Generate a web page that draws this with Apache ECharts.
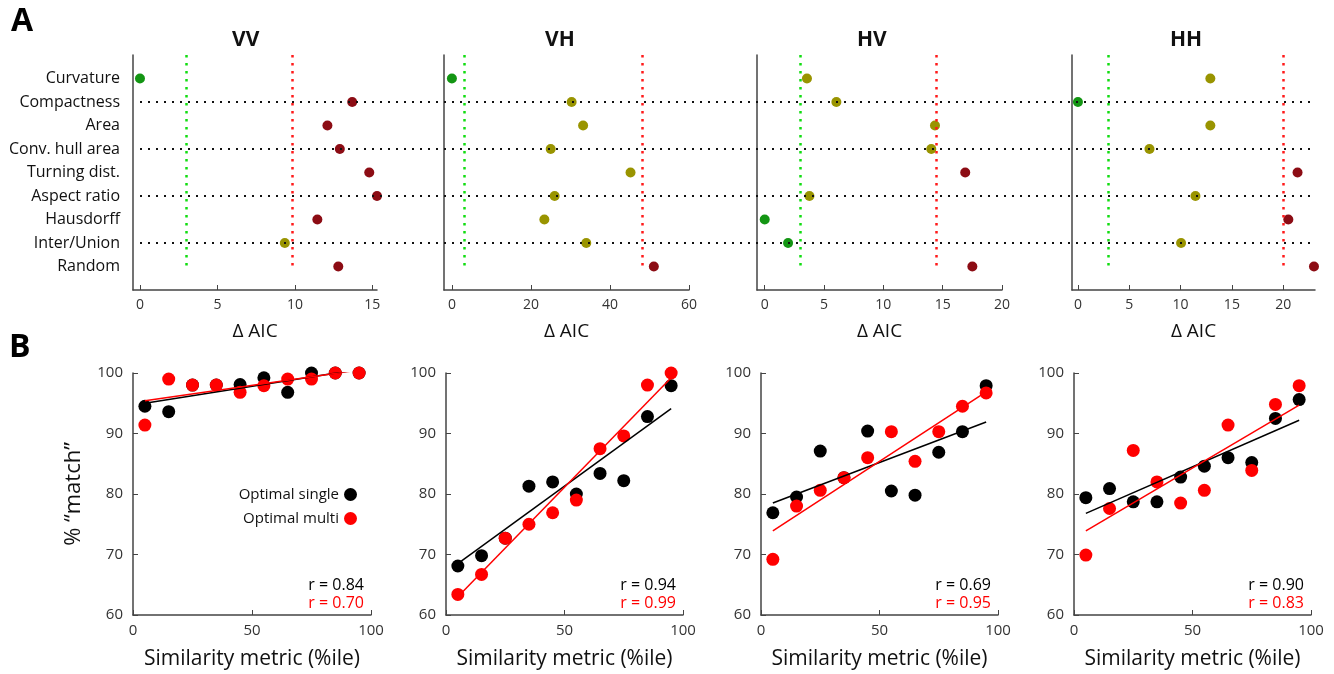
<!DOCTYPE html>
<html>
<head>
<meta charset="utf-8">
<title>Delta AIC and % match</title>
<script src="https://cdn.jsdelivr.net/npm/echarts@6/dist/echarts.min.js"></script>
<style>
  html, body { margin: 0; padding: 0; background: #fff; }
  #chart { width: 1334px; height: 674px; }
</style>
</head>
<body>
<div id="chart"></div>
<script>
const metrics = ['Curvature', 'Compactness', 'Area', 'Conv. hull area', 'Turning dist.', 'Aspect ratio', 'Hausdorff', 'Inter/Union', 'Random'];
const conditions = ['VV', 'VH', 'HV', 'HH'];

// panel A: delta AIC of each metric
const aicVV = [0, 13.7, 12.1, 12.9, 14.8, 15.3, 11.45, 9.35, 12.8];
const aicVH = [0, 30.3, 33.2, 25.0, 45.2, 26.0, 23.4, 34.0, 51.1];
const aicHV = [3.56, 6.04, 14.35, 14.04, 16.9, 3.77, 0, 1.97, 17.5];
const aicHH = [12.9, 0, 12.9, 6.97, 21.4, 11.45, 20.5, 10.05, 23.0];

// green / red threshold lines
const greenCut = [3, 3, 3, 3];
const redCut = [9.8, 48.1, 14.5, 20];

const aicTicksVV = [0, 5, 10, 15];
const aicTicksVH = [0, 20, 40, 60];
const aicTicksHV = [0, 5, 10, 15, 20];
const aicTicksHH = [0, 5, 10, 15, 20];

// rows that get the dotted guide across all panels
const guideRows = [2, 4, 6, 8];

// panel B: % match vs similarity percentile
const pctile = [5, 15, 25, 35, 45, 55, 65, 75, 85, 95];
const singleVV = [94.5, 93.6, 98.0, 98.0, 98.1, 99.2, 96.8, 100, 100, 100];
const multiVV  = [91.4, 99.0, 98.0, 98.0, 96.8, 97.9, 99.0, 99.0, 100, 100];
const singleVH = [68.1, 69.8, 72.7, 81.3, 82.0, 80.0, 83.4, 82.2, 92.8, 97.9];
const multiVH  = [63.4, 66.7, 72.7, 75.0, 76.9, 79.0, 87.5, 89.6, 98.0, 100];
const singleHV = [76.9, 79.5, 87.1, 82.7, 90.4, 80.5, 79.8, 86.9, 90.3, 97.9];
const multiHV  = [69.2, 78.0, 80.6, 82.7, 86.0, 90.3, 85.4, 90.3, 94.5, 96.7];
const singleHH = [79.4, 80.9, 78.7, 78.7, 82.8, 84.6, 86.0, 85.2, 92.5, 95.6];
const multiHH  = [69.9, 77.6, 87.2, 82.0, 78.5, 80.6, 91.4, 83.9, 94.8, 97.9];

// fitted lines (end points)
const fitSingleVV = [[5, 95.0], [95, 100.6]];
const fitMultiVV  = [[5, 95.4], [95, 100.5]];
const fitSingleVH = [[5, 68.5], [95, 94.1]];
const fitMultiVH  = [[5, 63.0], [95, 99.2]];
const fitSingleHV = [[5, 78.5], [95, 91.9]];
const fitMultiHV  = [[5, 73.9], [95, 96.9]];
const fitSingleHH = [[5, 76.8], [95, 92.2]];
const fitMultiHH  = [[5, 73.9], [95, 94.7]];

const rSingle = ['0.84', '0.94', '0.69', '0.90'];
const rMulti  = ['0.70', '0.99', '0.95', '0.83'];

// ---- layout ----
const FONT = '"Open Sans", "DejaVu Sans", sans-serif';
const aicData = [aicVV, aicVH, aicHV, aicHH];
const aicTicks = [aicTicksVV, aicTicksVH, aicTicksHV, aicTicksHH];
const aicMin = [-0.45, -2, -0.65, -0.58];
const aicMax = [15.3, 60, 20, 23.1];
const topLeft = [133, 444, 757, 1072];
const topWidth = [244, 245, 245, 243];
const titleX = [262, 575, 887, 1200];

const singles = [singleVV, singleVH, singleHV, singleHH];
const multis = [multiVV, multiVH, multiHV, multiHH];
const fitSingles = [fitSingleVV, fitSingleVH, fitSingleHV, fitSingleHH];
const fitMultis = [fitMultiVV, fitMultiVH, fitMultiHV, fitMultiHH];
const botLeft = [133, 446, 761, 1074];
const botWidth = [238, 237, 237, 237];

const GREEN = '#139513', OLIVE = '#999400', DARKRED = '#8c0c14';
const axisLine = { show: true, onZero: false, lineStyle: { color: '#444', width: 1.5 } };

function dotColor(v, i) {
  if (v < greenCut[i]) return GREEN;
  if (v < redCut[i]) return OLIVE;
  return DARKRED;
}

const grid = [], xAxis = [], yAxis = [], series = [], graphic = [];

for (let i = 0; i < 4; i++) {
  grid.push({ left: topLeft[i], width: topWidth[i], top: 55, height: 235 });
  xAxis.push({
    type: 'value', gridIndex: i, min: aicMin[i], max: aicMax[i], position: 'bottom',
    name: 'Δ AIC', nameLocation: 'middle', nameGap: 32,
    nameTextStyle: { fontFamily: FONT, fontSize: 19, color: '#111' },
    axisLine: axisLine,
    axisTick: { customValues: aicTicks[i], inside: true, length: 5, lineStyle: { color: '#444' } },
    axisLabel: { customValues: aicTicks[i], margin: 8, fontFamily: FONT, fontSize: 14, color: '#333' },
    splitLine: { show: false }
  });
  yAxis.push({
    type: 'value', gridIndex: i, min: 0, max: 10, inverse: true, position: 'left',
    axisLine: axisLine, axisTick: { show: false }, splitLine: { show: false },
    axisLabel: {
      show: i === 0, customValues: [1, 2, 3, 4, 5, 6, 7, 8, 9], margin: 13,
      formatter: v => metrics[v - 1] || '', fontFamily: FONT, fontSize: 16, color: '#111'
    }
  });
  series.push({
    type: 'scatter', xAxisIndex: i, yAxisIndex: i, symbolSize: 10, z: 3,
    data: aicData[i].map((v, k) => [v, k + 1]),
    itemStyle: { color: p => dotColor(p.value[0], i), opacity: 1 },
    markLine: {
      silent: true, symbol: ['none', 'none'], label: { show: false }, animation: false,
      data: [
        [{ coord: [greenCut[i], 0], lineStyle: { color: '#11dd11' } }, { coord: [greenCut[i], 9] }],
        [{ coord: [redCut[i], 0], lineStyle: { color: '#ff1a1a' } }, { coord: [redCut[i], 9] }]
      ],
      lineStyle: { type: [2.5, 5.5], width: 2.5 }
    }
  });
  graphic.push({
    type: 'text', left: titleX[i] - 30, top: 30,
    style: { text: conditions[i], x: 0, y: 0, fontFamily: FONT, fontWeight: 'bold', fontSize: 21, fill: '#111', width: 60, align: 'center' }
  });
}

// full-width guide grid for dotted horizontal rows
grid.push({ left: 140, width: 1175, top: 55, height: 235 });
xAxis.push({ type: 'value', gridIndex: 4, min: 0, max: 1, show: false });
yAxis.push({ type: 'value', gridIndex: 4, min: 0, max: 10, inverse: true, show: false });
series.push({
  type: 'scatter', xAxisIndex: 4, yAxisIndex: 4, data: [], z: 2,
  markLine: {
    silent: true, symbol: ['none', 'none'], label: { show: false }, animation: false,
    data: guideRows.map(r => ({ yAxis: r })),
    lineStyle: { type: [2, 6], width: 2, color: '#111' }
  }
});

for (let i = 0; i < 4; i++) {
  const g = 5 + i;
  grid.push({ left: botLeft[i], width: botWidth[i], top: 373, height: 242 });
  xAxis.push({
    type: 'value', gridIndex: g, min: 0, max: 100, interval: 50, position: 'bottom',
    name: 'Similarity metric (%ile)', nameLocation: 'middle', nameGap: 34,
    nameTextStyle: { fontFamily: FONT, fontSize: 21, color: '#111' },
    axisLine: axisLine,
    axisTick: { inside: true, length: 5, lineStyle: { color: '#444' } },
    axisLabel: { margin: 8, fontFamily: FONT, fontSize: 15, color: '#333' },
    splitLine: { show: false }
  });
  yAxis.push({
    type: 'value', gridIndex: g, min: 60, max: 100, interval: 10, position: 'left',
    name: i === 0 ? '% “match”' : '', nameLocation: 'middle', nameGap: 48, nameRotate: 90,
    nameTextStyle: { fontFamily: FONT, fontSize: 22, color: '#111' },
    axisLine: axisLine,
    axisTick: { inside: true, length: 5, lineStyle: { color: '#444' } },
    axisLabel: { margin: 10, fontFamily: FONT, fontSize: 15, color: '#333' },
    splitLine: { show: false }
  });
  series.push({
    name: 'Optimal single', type: 'scatter', xAxisIndex: g, yAxisIndex: g, symbolSize: 13, z: 3,
    itemStyle: { color: '#000', opacity: 1 }, data: pctile.map((x, k) => [x, singles[i][k]])
  });
  series.push({
    name: 'Optimal multi', type: 'scatter', xAxisIndex: g, yAxisIndex: g, symbolSize: 13, z: 4,
    itemStyle: { color: '#ff0000', opacity: 1 }, data: pctile.map((x, k) => [x, multis[i][k]])
  });
  series.push({
    type: 'line', xAxisIndex: g, yAxisIndex: g, symbol: 'none', z: 5, clip: true,
    lineStyle: { color: '#000', width: 1.5 }, data: fitSingles[i]
  });
  series.push({
    type: 'line', xAxisIndex: g, yAxisIndex: g, symbol: 'none', z: 6, clip: true,
    lineStyle: { color: '#ff0000', width: 1.5 }, data: fitMultis[i]
  });
  const rx = botLeft[i] + botWidth[i] - 7;
  graphic.push({
    type: 'text', right: 1334 - rx, top: 577,
    style: { text: 'r = ' + rSingle[i], fontFamily: FONT, fontSize: 16, fill: '#000' }
  });
  graphic.push({
    type: 'text', right: 1334 - rx, top: 595,
    style: { text: 'r = ' + rMulti[i], fontFamily: FONT, fontSize: 16, fill: '#ff0000' }
  });
}

graphic.push({ type: 'text', left: 11, top: 6, style: { text: 'A', fontFamily: FONT, fontWeight: 'bold', fontSize: 32, fill: '#000' } });
graphic.push({ type: 'text', left: 9, top: 332, style: { text: 'B', fontFamily: FONT, fontWeight: 'bold', fontSize: 32, fill: '#000' } });

const chart = echarts.init(document.getElementById('chart'));
chart.setOption({
  animation: false,
  backgroundColor: '#fff',
  grid: grid,
  xAxis: xAxis,
  yAxis: yAxis,
  legend: {
    data: ['Optimal single', 'Optimal multi'],
    orient: 'vertical', align: 'right', right: 972, top: 482,
    icon: 'circle', itemWidth: 13, itemHeight: 13, itemGap: 9, selectedMode: false,
    textStyle: { fontFamily: FONT, fontSize: 15, color: '#111' }
  },
  graphic: graphic,
  series: series
});
</script>
</body>
</html>
